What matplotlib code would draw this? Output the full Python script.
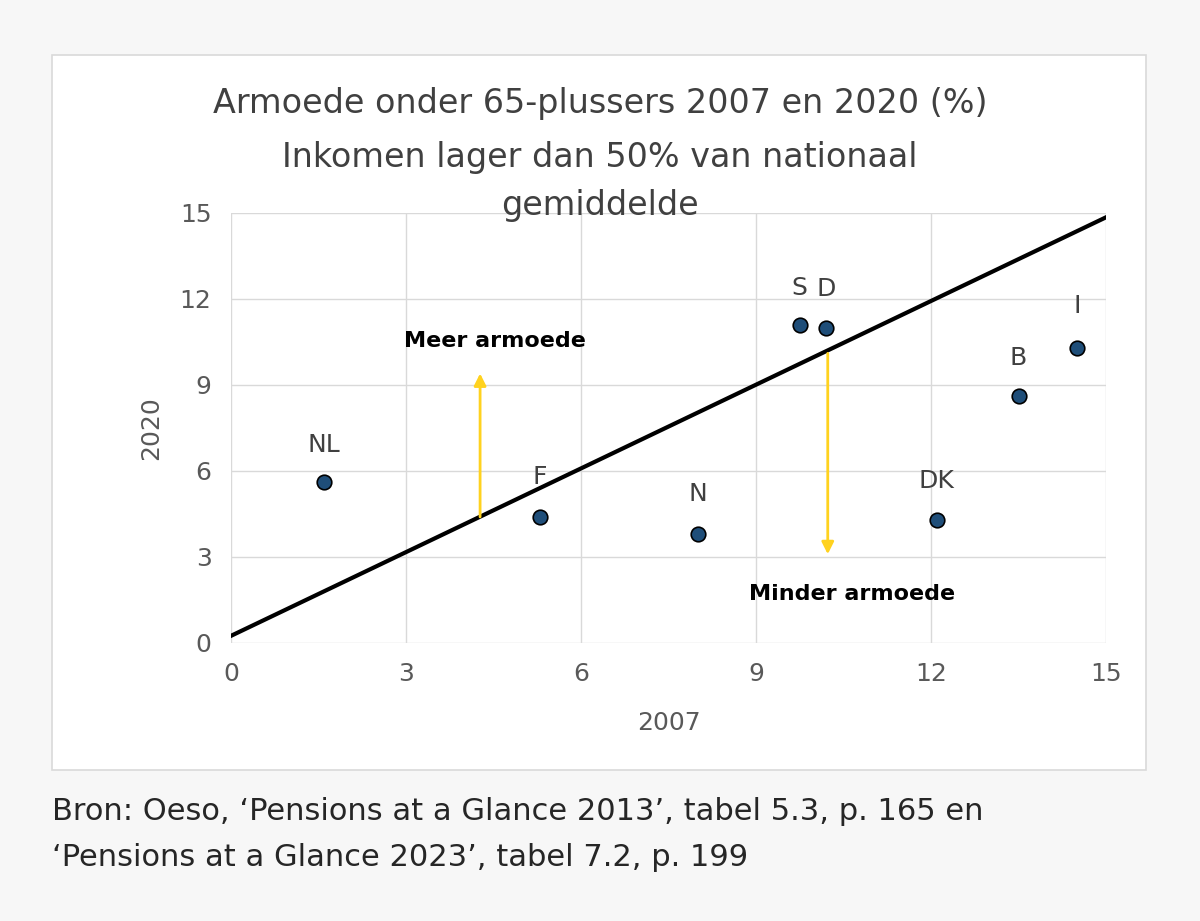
import matplotlib.pyplot as plt
from matplotlib.patches import Rectangle

countries = ["NL", "F", "N", "S", "D", "DK", "B", "I"]
poverty_2007 = [1.6, 5.3, 8.0, 9.75, 10.2, 12.1, 13.5, 14.5]
poverty_2020 = [5.6, 4.4, 3.8, 11.1, 11.0, 4.3, 8.6, 10.3]
label_offset = [1.3, 1.4, 1.4, 1.3, 1.35, 1.35, 1.35, 1.45]

line_x = [0, 15]
line_y = [0.25, 14.85]

fig = plt.figure(figsize=(12, 9.21), dpi=100)
fig.patch.set_facecolor("#f7f7f7")
fig.add_artist(Rectangle((52/1200, 1-770/921), 1094/1200, 715/921, transform=fig.transFigure,
                         facecolor="white", edgecolor="#d9d9d9", lw=1.2, zorder=0))

ax = fig.add_axes([231/1200, 1-643/921, 875/1200, 430/921])
ax.set_facecolor("white")
ax.set_xlim(0, 15)
ax.set_ylim(0, 15)
ax.set_xticks([0, 3, 6, 9, 12, 15])
ax.set_yticks([0, 3, 6, 9, 12, 15])
ax.grid(color="#d9d9d9", lw=1)
for s in ax.spines.values():
    s.set_visible(False)
ax.tick_params(length=0, labelsize=18, colors="#595959", pad=14)
ax.set_xlabel("2007", fontsize=18, color="#595959", labelpad=18)
ax.set_ylabel("2020", fontsize=18, color="#595959", labelpad=12)

ax.plot(line_x, line_y, color="black", lw=3, zorder=3)
ax.scatter(poverty_2007, poverty_2020, s=110, color="#1f4e79", edgecolor="black", lw=1.2, zorder=4)
for c, x, y, o in zip(countries, poverty_2007, poverty_2020, label_offset):
    ax.text(x, y + o, c, ha="center", va="center", fontsize=18, color="#404040")

ax.annotate("", xy=(4.27, 9.5), xytext=(4.27, 4.3),
            arrowprops=dict(arrowstyle="-|>", color="#ffd21f", lw=2, mutation_scale=18))
ax.annotate("", xy=(10.23, 3.0), xytext=(10.23, 10.2),
            arrowprops=dict(arrowstyle="-|>", color="#ffd21f", lw=2, mutation_scale=18))
ax.text(4.52, 10.53, "Meer armoede", ha="center", va="center", fontsize=16, fontweight="bold", color="black")
ax.text(10.65, 1.7, "Minder armoede", ha="center", va="center", fontsize=16, fontweight="bold", color="black")

for txt, yp in [("Armoede onder 65-plussers 2007 en 2020 (%)", 103),
                ("Inkomen lager dan 50% van nationaal", 157),
                ("gemiddelde", 205)]:
    fig.text(600/1200, 1-yp/921, txt, ha="center", va="center", fontsize=24, color="#404040")

fig.text(52/1200, 1-812/921, "Bron: Oeso, \u2018Pensions at a Glance 2013\u2019, tabel 5.3, p. 165 en",
         ha="left", va="center", fontsize=22, color="#262626")
fig.text(52/1200, 1-857/921, "\u2018Pensions at a Glance 2023\u2019, tabel 7.2, p. 199",
         ha="left", va="center", fontsize=22, color="#262626")

fig.savefig("out.png", dpi=100, facecolor=fig.get_facecolor())
